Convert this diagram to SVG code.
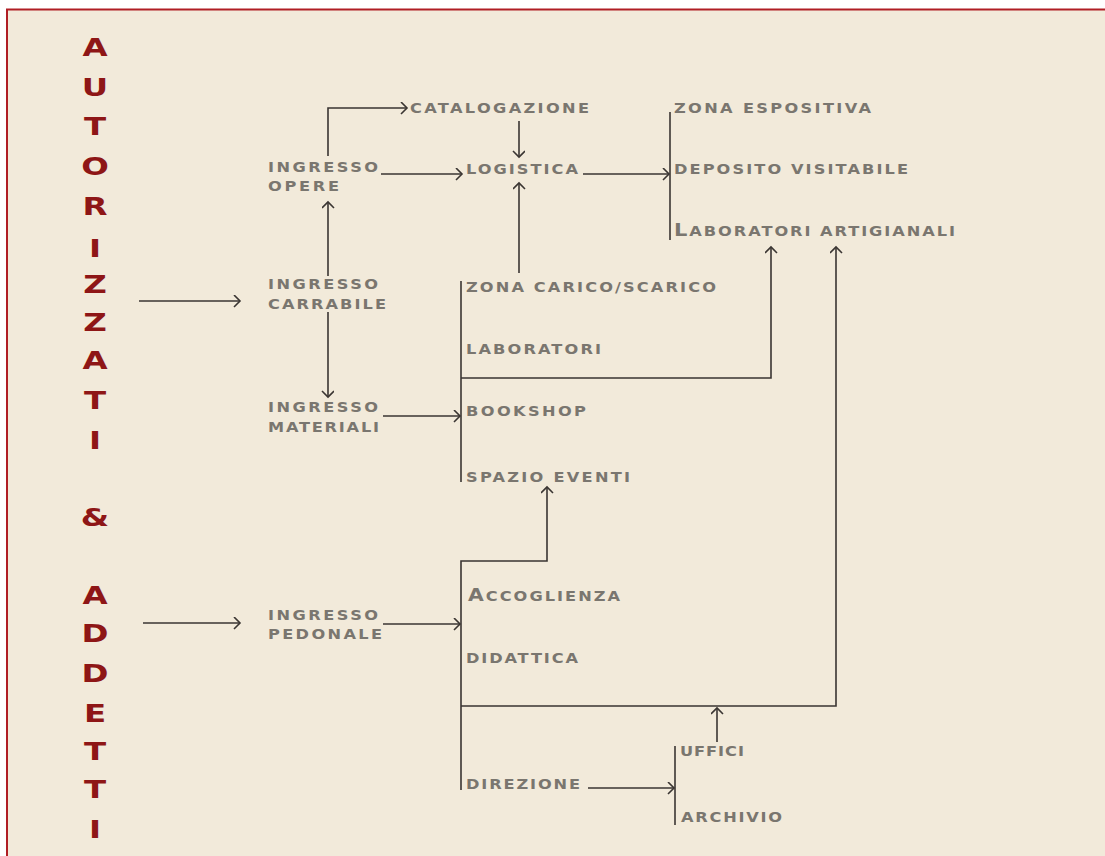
<svg xmlns="http://www.w3.org/2000/svg" width="1105" height="856" viewBox="0 0 1105 856">
<style>
.lbl{font-family:"DejaVu Sans",sans-serif;font-weight:bold;font-size:13.5px;fill:#7a766f}
.big{font-family:"DejaVu Sans",sans-serif;font-weight:bold;font-size:25px;fill:#8e1616;text-anchor:middle}
.c{fill:none;stroke:#3a3532;stroke-width:1.6}
</style>
<defs>
<marker id="ah" markerUnits="userSpaceOnUse" markerWidth="12" markerHeight="14" refX="7" refY="6" orient="auto">
<path d="M1,0 L7,6 L1,12" fill="none" stroke="#3a3532" stroke-width="1.6"/>
</marker>
</defs>
<rect x="0" y="0" width="1105" height="856" fill="#ffffff"/>
<rect x="7" y="9.5" width="1110" height="860" fill="#f2eada" stroke="#b01e24" stroke-width="2"/>

<g id="title" transform="translate(95,0) scale(1.3,1)">
<text class="big" x="0" y="56">A</text>
<text class="big" x="0" y="96">U</text>
<text class="big" x="0" y="135">T</text>
<text class="big" x="0" y="175">O</text>
<text class="big" x="0" y="215">R</text>
<text class="big" x="0" y="257">I</text>
<text class="big" x="0" y="293">Z</text>
<text class="big" x="0" y="331">Z</text>
<text class="big" x="0" y="369">A</text>
<text class="big" x="0" y="409">T</text>
<text class="big" x="0" y="449">I</text>
<text class="big" x="0" y="526">&amp;</text>
<text class="big" x="0" y="604">A</text>
<text class="big" x="0" y="642">D</text>
<text class="big" x="0" y="682">D</text>
<text class="big" x="0" y="722">E</text>
<text class="big" x="0" y="760">T</text>
<text class="big" x="0" y="798">T</text>
<text class="big" x="0" y="838">I</text>
</g>

<g id="connectors">
<path class="c" d="M139,301 H240" marker-end="url(#ah)"/>
<path class="c" d="M143,623 H240" marker-end="url(#ah)"/>
<path class="c" d="M328,156 V108 H407" marker-end="url(#ah)"/>
<path class="c" d="M519,121 V157" marker-end="url(#ah)"/>
<path class="c" d="M381,174 H462" marker-end="url(#ah)"/>
<path class="c" d="M583,174 H669" marker-end="url(#ah)"/>
<path class="c" d="M519,273 V183" marker-end="url(#ah)"/>
<path class="c" d="M328,276 V202" marker-end="url(#ah)"/>
<path class="c" d="M328,312 V397" marker-end="url(#ah)"/>
<path class="c" d="M383,416 H460" marker-end="url(#ah)"/>
<path class="c" d="M670,112 V240"/>
<path class="c" d="M461,281 V482"/>
<path class="c" d="M461,378 H771 V247" marker-end="url(#ah)"/>
<path class="c" d="M461,790 V561 H547 V487" marker-end="url(#ah)"/>
<path class="c" d="M383,624 H460" marker-end="url(#ah)"/>
<path class="c" d="M461,706 H836 V247" marker-end="url(#ah)"/>
<path class="c" d="M675,746 V825"/>
<path class="c" d="M717,742 V708" marker-end="url(#ah)"/>
<path class="c" d="M588,788 H674" marker-end="url(#ah)"/>
</g>

<g id="ingresso-opere"><text class="lbl" transform="translate(268,172) scale(1.2,1)" textLength="91.7" lengthAdjust="spacing">INGRESSO</text><text class="lbl" transform="translate(268,191) scale(1.2,1)" textLength="59.2" lengthAdjust="spacing">OPERE</text></g>
<g id="catalogazione"><text class="lbl" transform="translate(410,113) scale(1.2,1)" textLength="149.2" lengthAdjust="spacing">CATALOGAZIONE</text></g>
<g id="logistica"><text class="lbl" transform="translate(466,174) scale(1.2,1)" textLength="93.3" lengthAdjust="spacing">LOGISTICA</text></g>
<g id="zona-espositiva"><text class="lbl" transform="translate(674,113) scale(1.2,1)" textLength="164.2" lengthAdjust="spacing">ZONA ESPOSITIVA</text></g>
<g id="deposito-visitabile"><text class="lbl" transform="translate(674,174) scale(1.2,1)" textLength="195" lengthAdjust="spacing">DEPOSITO VISITABILE</text></g>
<g id="laboratori-artigianali"><text class="lbl" transform="translate(674,236) scale(1.2,1)" textLength="234.2" lengthAdjust="spacing"><tspan style="font-size:17.5px">L</tspan>ABORATORI ARTIGIANALI</text></g>
<g id="ingresso-carrabile"><text class="lbl" transform="translate(268,289) scale(1.2,1)" textLength="91.7" lengthAdjust="spacing">INGRESSO</text><text class="lbl" transform="translate(268,309) scale(1.2,1)" textLength="98.3" lengthAdjust="spacing">CARRABILE</text></g>
<g id="zona-carico"><text class="lbl" transform="translate(466,292) scale(1.2,1)" textLength="208.3" lengthAdjust="spacing">ZONA CARICO/SCARICO</text></g>
<g id="laboratori"><text class="lbl" transform="translate(466,354) scale(1.2,1)" textLength="112.5" lengthAdjust="spacing">LABORATORI</text></g>
<g id="ingresso-materiali"><text class="lbl" transform="translate(268,412) scale(1.2,1)" textLength="91.7" lengthAdjust="spacing">INGRESSO</text><text class="lbl" transform="translate(268,432) scale(1.2,1)" textLength="92.5" lengthAdjust="spacing">MATERIALI</text></g>
<g id="bookshop"><text class="lbl" transform="translate(466,416) scale(1.2,1)" textLength="100" lengthAdjust="spacing">BOOKSHOP</text></g>
<g id="spazio-eventi"><text class="lbl" transform="translate(466,482) scale(1.2,1)" textLength="136.7" lengthAdjust="spacing">SPAZIO EVENTI</text></g>
<g id="accoglienza"><text class="lbl" transform="translate(468,601) scale(1.2,1)" textLength="126.7" lengthAdjust="spacing"><tspan style="font-size:17px">A</tspan>CCOGLIENZA</text></g>
<g id="ingresso-pedonale"><text class="lbl" transform="translate(268,620) scale(1.2,1)" textLength="91.7" lengthAdjust="spacing">INGRESSO</text><text class="lbl" transform="translate(268,639) scale(1.2,1)" textLength="95" lengthAdjust="spacing">PEDONALE</text></g>
<g id="didattica"><text class="lbl" transform="translate(466,663) scale(1.2,1)" textLength="93.3" lengthAdjust="spacing">DIDATTICA</text></g>
<g id="uffici"><text class="lbl" transform="translate(680,756) scale(1.2,1)" textLength="53.3" lengthAdjust="spacing">UFFICI</text></g>
<g id="direzione"><text class="lbl" transform="translate(466,789) scale(1.2,1)" textLength="95" lengthAdjust="spacing">DIREZIONE</text></g>
<g id="archivio"><text class="lbl" transform="translate(681,822) scale(1.2,1)" textLength="84.2" lengthAdjust="spacing">ARCHIVIO</text></g>
</svg>
